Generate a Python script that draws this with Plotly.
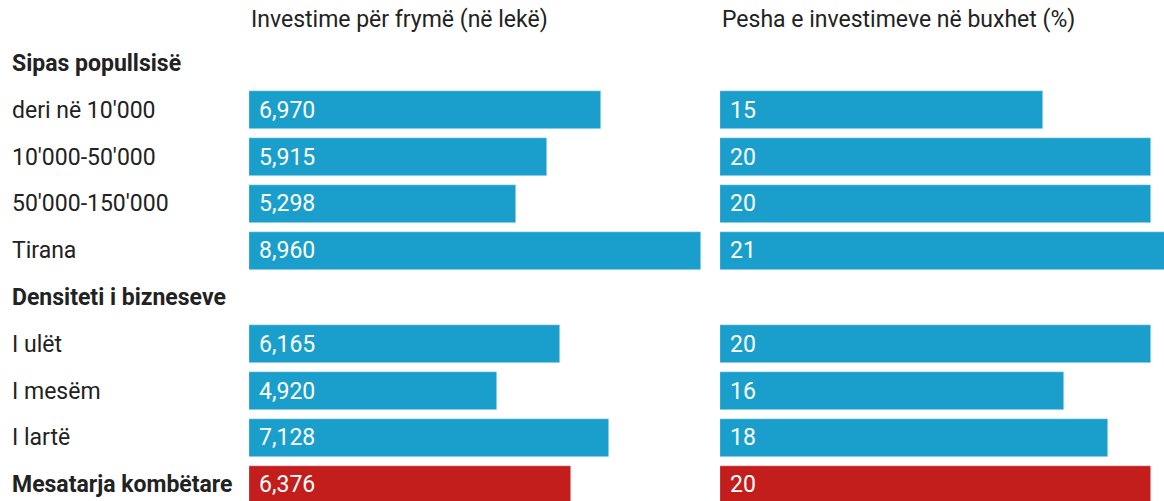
import plotly.graph_objects as go

# rows: group headers have no values
row_labels = ["Sipas popullsisë", "deri në 10'000", "10'000-50'000", "50'000-150'000", "Tirana",
              "Densiteti i bizneseve", "I ulët", "I mesëm", "I lartë", "Mesatarja kombëtare"]
bold_rows = ["Sipas popullsisë", "Densiteti i bizneseve", "Mesatarja kombëtare"]
invest_per_capita = [None, 6970, 5915, 5298, 8960, None, 6165, 4920, 7128, 6376]
budget_share = [None, 15, 20, 20, 21, None, 20, 16, 18, 20]
panel_titles = ["Investime për frymë (në lekë)", "Pesha e investimeve në buxhet (%)"]

BLUE = "#1a9fcc"
RED = "#c41e1c"
W, H = 1164, 501
FONT = "Roboto"
FS = 23

rows = list(range(len(row_labels)))
colors = [RED if lab == "Mesatarja kombëtare" else BLUE for lab in row_labels]

fig = go.Figure()
fig.add_trace(go.Bar(x=invest_per_capita, y=rows, orientation="h", marker_color=colors,
                     width=0.81, xaxis="x", yaxis="y", hoverinfo="skip"))
fig.add_trace(go.Bar(x=budget_share, y=rows, orientation="h", marker_color=colors,
                     width=0.81, xaxis="x2", yaxis="y", hoverinfo="skip"))

annotations = []
for i, lab in enumerate(row_labels):
    txt = f"<b>{lab}</b>" if lab in bold_rows else lab
    annotations.append(dict(text=txt, x=10 / W, xref="paper", y=i, yref="y",
                            xanchor="left", yanchor="middle", showarrow=False,
                            font=dict(size=FS, color="#222", family=FONT)))
    if invest_per_capita[i] is not None:
        annotations.append(dict(text=f"{invest_per_capita[i]:,}", x=0, xref="x", y=i, yref="y",
                                xanchor="left", yanchor="middle", xshift=8, showarrow=False,
                                font=dict(size=FS, color="white", family=FONT)))
        annotations.append(dict(text=f"{budget_share[i]}", x=0, xref="x2", y=i, yref="y",
                                xanchor="left", yanchor="middle", xshift=8, showarrow=False,
                                font=dict(size=FS, color="white", family=FONT)))

for xr, title in zip(["x", "x2"], panel_titles):
    annotations.append(dict(text=title, x=0, xref=xr, y=-0.93, yref="y",
                            xanchor="left", yanchor="middle", showarrow=False,
                            font=dict(size=FS, color="#222", family=FONT)))

fig.update_layout(
    width=W, height=H,
    margin=dict(l=0, r=0, t=0, b=0),
    paper_bgcolor="white", plot_bgcolor="white",
    showlegend=False, bargap=0,
    font=dict(family=FONT),
    xaxis=dict(domain=[249 / W, 701 / W], range=[0, 8960], visible=False, fixedrange=True),
    xaxis2=dict(domain=[720 / W, 1], range=[0, 444 / 21.53], visible=False, fixedrange=True),
    yaxis=dict(range=[9.35, -1.357], visible=False, fixedrange=True),
    annotations=annotations,
)

fig.write_html("out.html", config={"displayModeBar": False},
               post_script="document.body.style.margin='0';")
